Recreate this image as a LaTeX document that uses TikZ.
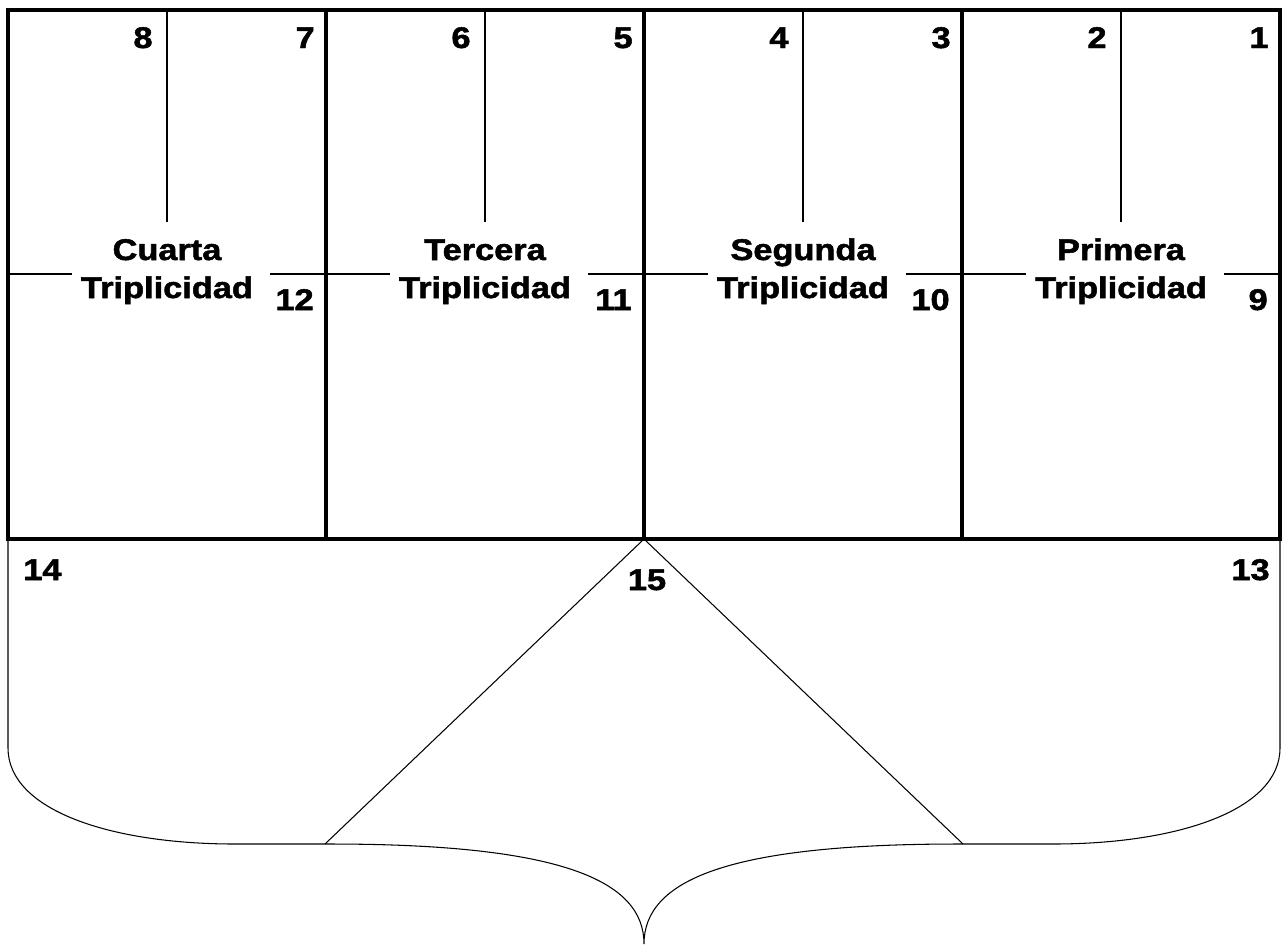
\documentclass[tikz,border=0pt]{standalone}
\usepackage{fontspec}
\setmainfont{Liberation Sans}
\newfontfamily\heavy[FakeBold=1.6]{Liberation Sans Bold}
\newcommand{\wide}[1]{\scalebox{1.15}[1]{#1}}

\begin{document}
\begin{tikzpicture}[x=0.02cm,y=-0.02cm,
  frame/.style={line width=2.5pt},
  rule/.style={line width=0.6pt},
  lbl/.style={font=\heavy\fontsize{17}{20}\selectfont,inner sep=0pt}]
\useasboundingbox (0,0) rectangle (1283,944);
% the four triplicity boxes, right to left
\foreach \i/\tname in {0/Cuarta,1/Tercera,2/Segunda,3/Primera} {
  \pgfmathsetmacro{\L}{8+318*\i}
  \pgfmathtruncatemacro{\na}{8-2*\i}
  \pgfmathtruncatemacro{\nb}{7-2*\i}
  \pgfmathtruncatemacro{\nc}{12-\i}
  \draw[rule] ({\L+159},10) -- ({\L+159},222);
  \draw[rule] (\L,274) -- ({\L+64},274);
  \draw[rule] ({\L+262},274) -- ({\L+318},274);
  \node[lbl,anchor=base] (head\i) at ({\L+159},260) {\wide{\tname}};
  \node[lbl,anchor=base] (trip\i) at ({\L+159},298) {\wide{Triplicidad}};
  \node[lbl,anchor=base] (na\i) at ({\L+135},48) {\wide{\na}};
  \node[lbl,anchor=base east] (nb\i) at ({\L+307},48) {\wide{\nb}};
  \node[lbl,anchor=base east] (nc\i) at ({\L+306},310) {\wide{\nc}};
}
\draw[frame] (8,10) rectangle (1280,539);
\foreach \x in {326,644,962} \draw[frame] (\x,10) -- (\x,539);
% lower brace
\coordinate (apex) at (644,539);
\coordinate (bl) at (325,844);
\coordinate (br) at (963,844);
\coordinate (tip) at (644,944);
\draw[rule] (apex) -- (bl);
\draw[rule] (apex) -- (br);
\draw[rule] (8,539) -- (8,748) .. controls (8,810) and (110,844) .. (235,844) -- (bl) -- (330,844)
  .. controls (560,844) and (644,880) .. (tip) .. controls (644,880) and (728,844) .. (958,844)
  -- (br) -- (1053,844) .. controls (1178,844) and (1280,810) .. (1280,748) -- (1280,539);
\node[lbl,anchor=base west] (n14) at (23,580) {\wide{14}};
\node[lbl,anchor=base east] (n13) at (1270,580) {\wide{13}};
\node[lbl,anchor=base] (n15) at (647,590) {\wide{15}};
\end{tikzpicture}
\end{document}
